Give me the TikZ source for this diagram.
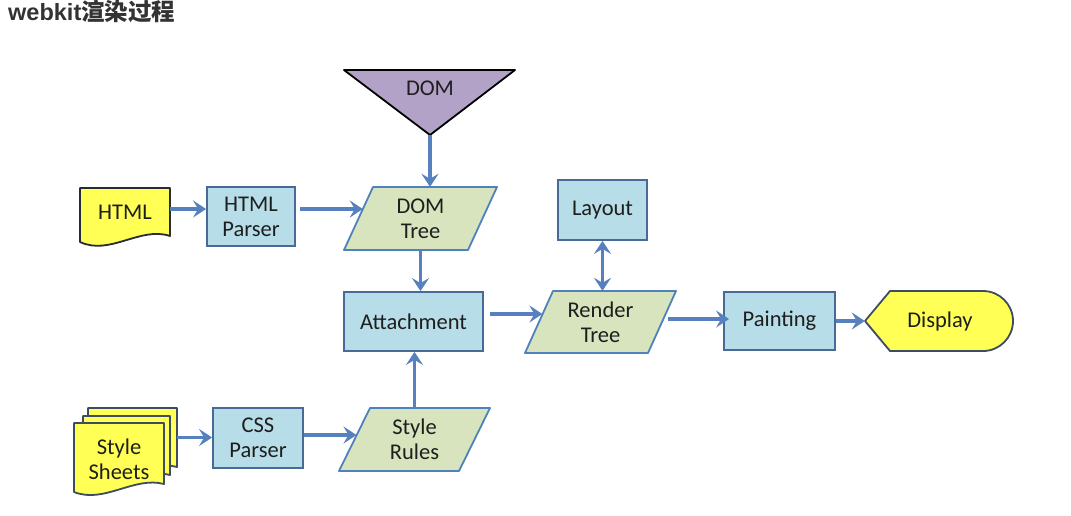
\documentclass[tikz,border=0pt]{standalone}
\usepackage{fontspec}
\setmainfont{Carlito}
\newfontfamily\titlelat{Liberation Sans}
\newfontfamily\cjk{Noto Sans CJK SC}
\usetikzlibrary{arrows.meta}
\definecolor{boxfill}{RGB}{183,221,232}
\definecolor{boxline}{RGB}{72,106,150}
\definecolor{parafill}{RGB}{215,228,189}
\definecolor{paraline}{RGB}{79,129,189}
\definecolor{docfill}{RGB}{255,255,85}
\definecolor{docline}{RGB}{40,44,52}
\definecolor{sheetline}{RGB}{62,76,98}
\definecolor{domfill}{RGB}{179,162,199}
\definecolor{arrowc}{RGB}{86,128,190}
\definecolor{txt}{RGB}{30,30,30}
\definecolor{titlec}{RGB}{51,51,51}
\newcommand\diagfont{\fontsize{22.5}{25}\selectfont}
\tikzset{
  box/.style={draw=boxline, fill=boxfill, line width=1.8pt, inner sep=0pt, font=\diagfont, text=txt, align=center},
  lbl/.style={inner sep=0pt, font=\diagfont, text=txt, align=center},
  para/.style={draw=paraline, fill=parafill, line width=1.8pt, line join=round},
  docshape/.style={draw=docline, fill=docfill, line width=1.8pt, line join=round},
  sheetshape/.style={draw=sheetline, fill=docfill, line width=1.8pt, line join=round},
  conn/.style={draw=arrowc, line width=3.6pt, arrows={-Stealth[length=13pt,width=17pt,inset=5pt]}},
  dconn/.style={draw=arrowc, line width=3.6pt, arrows={Stealth[length=13pt,width=17pt,inset=5pt]-Stealth[length=13pt,width=17pt,inset=5pt]}}
}
\begin{document}
\begin{tikzpicture}[x=1pt,y=-1pt]
\useasboundingbox[fill=white] (0,0) rectangle (1071,515);

% title
\node[anchor=base west, inner sep=0pt, text=titlec] (title) at (8,20)
  {\fontsize{23.5}{28}\selectfont\bfseries\titlelat webkit\cjk 渲染过程};

% DOM triangle
\draw[fill=domfill, draw=black, line width=1.8pt, line join=round] (344,70) -- (515,70) -- (430,135) -- cycle;
\node[lbl] (dom) at (430,88) {DOM};
\coordinate (domtip) at (430,135);

% HTML document
\draw[docshape] (80,188) -- (170,188) -- (170,236) .. controls (140,226) and (110,256) .. (80,242) -- cycle;
\node[lbl, minimum width=90pt, minimum height=48pt] (html) at (125,212) {HTML};

% HTML Parser
\node[box, minimum width=88pt, minimum height=59pt] (parser) at (251,216.5) {HTML\\Parser};

% DOM Tree
\draw[para] (373,187) -- (497,187) -- (468,250) -- (344,250) -- cycle;
\node[lbl, minimum width=124pt, minimum height=63pt] (domtree) at (420.5,218.5) {DOM\\Tree};

% Layout
\node[box, minimum width=89pt, minimum height=60pt] (layout) at (602.5,210) {Layout};

% Attachment
\node[box, minimum width=139pt, minimum height=59pt] (attach) at (413.5,321.5) {Attachment};

% Render Tree
\draw[para] (553,291) -- (676,291) -- (648,353) -- (525,353) -- cycle;
\node[lbl, minimum width=123pt, minimum height=62pt] (render) at (600.5,322) {Render\\Tree};

% Painting
\node[box, minimum width=111pt, minimum height=58pt] (painting) at (779.5,321) {Painting};

% Display
\draw[fill=docfill, draw=sheetline, line width=1.8pt, line join=round]
  (865,321) -- (890,291) -- (983,291) arc[start angle=-90, end angle=90, radius=30] -- (890,351) -- cycle;
\node[lbl, minimum width=148pt, minimum height=60pt] (display) at (939,321) {\hspace*{2pt}Display};

% Style Sheets (stack)
\draw[sheetshape] (88,408) -- (177,408) -- (177,467) .. controls (148,459) and (119,487) .. (88,475) -- cycle;
\draw[sheetshape] (83,416) -- (170,416) -- (170,475) .. controls (141,467) and (112,495) .. (83,483) -- cycle;
\draw[sheetshape] (74,423) -- (164,423) -- (164,484) .. controls (134,476) and (104,504) .. (74,492) -- cycle;
\node[inner sep=0pt, minimum width=89pt, minimum height=59pt] (sheetsback) at (132.5,437.5) {};
\node[lbl, minimum width=90pt, minimum height=70pt] (sheets) at (119,459) {Style\\Sheets};

% CSS Parser
\node[box, minimum width=90pt, minimum height=60pt] (css) at (258,438) {CSS\\Parser};

% Style Rules
\draw[para] (370,408) -- (490,408) -- (459,471) -- (339,471) -- cycle;
\node[lbl, minimum width=120pt, minimum height=63pt] (rules) at (414.5,439.5) {Style\\Rules};

% connectors
\draw[conn] ([yshift=3pt]html.east) -- ([yshift=3pt]html.east -| parser.west);
\draw[conn] ([xshift=4pt,yshift=7.5pt]parser.east) -- ([xshift=4.5pt,yshift=9.5pt]domtree.west);
\draw[conn] (domtip) -- (domtree.north -| domtip);
\draw[conn] (domtree.south) -- (attach.north -| domtree.south);
\draw[conn] (rules.north) -- (attach.south -| rules.north);
\draw[conn] ([xshift=6pt,yshift=7.5pt]attach.east) -- ([xshift=3.6pt,yshift=8pt]render.west);
\draw[dconn] (layout.south) -- (layout.south |- render.north);
\draw[conn] ([xshift=6pt,yshift=3pt]render.east) -- ([xshift=6pt,yshift=3pt]render.east -| painting.west);
\draw[conn] (painting.east) -- (display.west);
\draw[conn] (sheetsback.east) -- (sheetsback.east -| css.west);
\draw[conn] ([yshift=3pt]css.east) -- ([xshift=2.2pt,yshift=4.5pt]rules.west);
\end{tikzpicture}
\end{document}
